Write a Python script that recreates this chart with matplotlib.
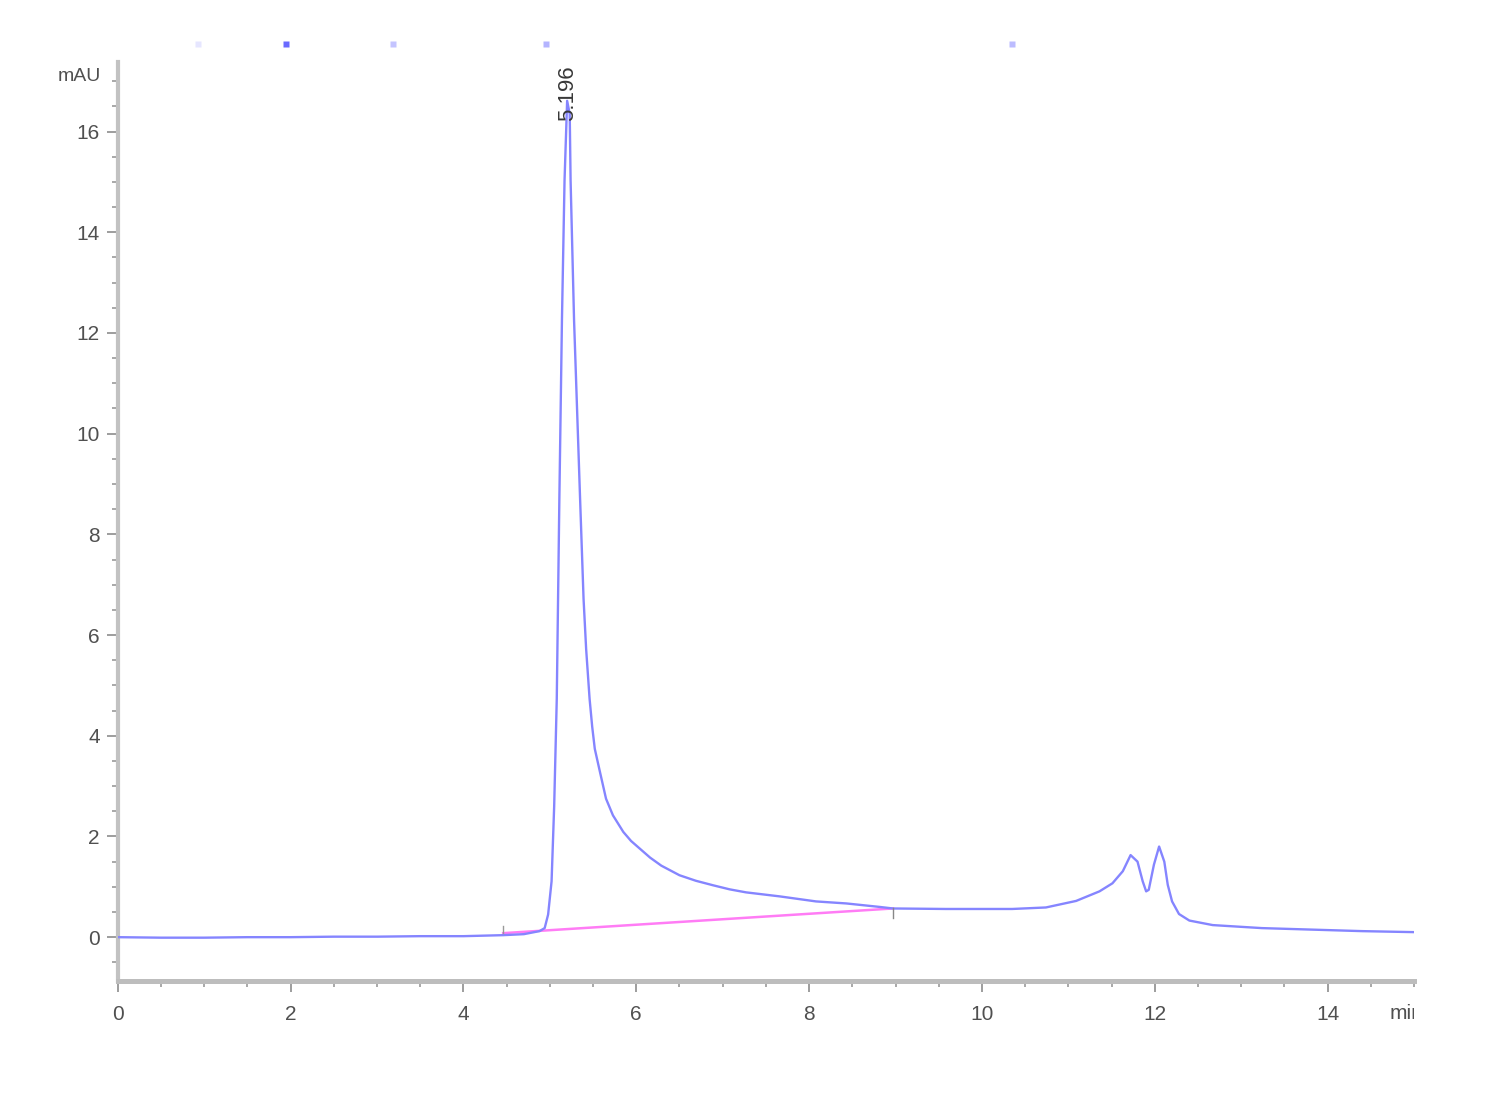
import matplotlib
matplotlib.use("Agg")
import matplotlib.pyplot as plt
from matplotlib.ticker import MultipleLocator
from matplotlib.transforms import Bbox, TransformedBbox

# ---- data ----
time_min = [0.0, 0.5, 1.0, 1.5, 2.0, 2.5, 3.0, 3.5, 4.0, 4.46, 4.7, 4.88,
            4.94, 4.98, 5.02, 5.05, 5.08, 5.11, 5.14, 5.17, 5.20, 5.23, 5.24,
            5.28, 5.35, 5.39, 5.42, 5.46, 5.49, 5.52, 5.58, 5.65, 5.73, 5.85, 5.94,
            6.04, 6.16, 6.29, 6.50, 6.69, 6.89, 7.08, 7.27, 7.66,
            8.08, 8.43, 8.82, 8.97, 9.58, 10.35, 10.74, 11.09, 11.36, 11.51,
            11.63, 11.72, 11.80, 11.86, 11.90, 11.93, 11.99, 12.05, 12.11,
            12.15, 12.20, 12.28, 12.40, 12.67, 13.24, 13.82, 14.40, 15.0]
signal_mau = [0.0, -0.01, -0.01, 0.0, 0.0, 0.01, 0.01, 0.02, 0.02, 0.04, 0.06, 0.12,
              0.18, 0.45, 1.11, 2.6, 4.73, 8.70, 12.26, 15.03, 16.61, 16.35, 15.03,
              12.26, 8.70, 6.72, 5.72, 4.73, 4.18, 3.74, 3.28, 2.75, 2.42, 2.09, 1.91,
              1.76, 1.58, 1.42, 1.23, 1.12, 1.03, 0.95, 0.89, 0.81,
              0.71, 0.67, 0.60, 0.57, 0.56, 0.56, 0.59, 0.72, 0.91, 1.07,
              1.31, 1.63, 1.50, 1.11, 0.91, 0.94, 1.44, 1.80, 1.50,
              1.04, 0.71, 0.46, 0.33, 0.24, 0.18, 0.15, 0.12, 0.10]

baseline_t = [4.46, 8.97]
baseline_y = [0.08, 0.57]

peak_rt = 5.196
peak_label = "5.196"
peak_height = 16.61

event_marks_x = [0.93, 1.95, 3.19, 4.95, 10.35]
event_marks_c = ["#e6e6ff", "#6a6aff", "#c4c4ff", "#b4b4ff", "#bcbcff"]

x_ticks = [0, 2, 4, 6, 8, 10, 12, 14]
y_ticks = [0, 2, 4, 6, 8, 10, 12, 14, 16]
x_unit = "min"
y_unit = "mAU"

# ---- figure ----
fig = plt.figure(figsize=(15, 11), dpi=100)
ax = fig.add_axes([0.0785, 0.1082, 0.8642, 0.8354])

ax.plot(time_min, signal_mau, color="#8585ff", lw=1.7, solid_joinstyle="round", zorder=3)
ax.plot(baseline_t, baseline_y, color="#ff7cf5", lw=1.8, zorder=2)

# integration start / end markers
ax.plot([baseline_t[0], baseline_t[0]], [baseline_y[0], baseline_y[0] + 0.15],
        color="#999999", lw=1.0, zorder=4)
ax.plot([baseline_t[1], baseline_t[1]], [baseline_y[1], baseline_y[1] - 0.18],
        color="#888888", lw=1.0, zorder=4)

ax.set_xlim(0, 15)
ax.set_ylim(-0.87, 17.38)

for s in ["top", "right"]:
    ax.spines[s].set_visible(False)
ax.spines["left"].set_color("#c2c2c2")
ax.spines["left"].set_linewidth(3.0)
ax.spines["bottom"].set_color("#bdbdbd")
ax.spines["bottom"].set_linewidth(3.6)

ax.set_xticks(x_ticks)
ax.set_yticks(y_ticks)
ax.xaxis.set_minor_locator(MultipleLocator(0.5))
ax.yaxis.set_minor_locator(MultipleLocator(0.5))
ax.tick_params(which="major", length=8, width=1.2, color="#8c8c8c",
               labelsize=15, labelcolor="#505050")
ax.tick_params(which="minor", length=4, width=1.2, color="#9a9a9a")
ax.tick_params(axis="x", which="major", pad=9)
ax.tick_params(axis="y", which="major", pad=5)
for lab in ax.get_xticklabels() + ax.get_yticklabels():
    lab.set_fontfamily("Liberation Sans")

# unit labels
ax.text(-0.2, 17.1, y_unit, ha="right", va="center", fontsize=14,
        color="#505050", family="Liberation Sans")
t = ax.text(14.72, -1.52, x_unit, ha="left", va="center", fontsize=15,
            color="#505050", family="Liberation Sans", clip_on=True)
t.set_clip_box(TransformedBbox(Bbox([[-0.1, -0.2], [1.0, 1.0]]), ax.transAxes))

# peak label
ax.text(peak_rt + 0.01, peak_height - 0.4, peak_label, rotation=90, ha="center",
        va="bottom", fontsize=16, color="#383838", family="Liberation Sans",
        zorder=5, clip_on=False)

# event marks above the plot
for ex, ec in zip(event_marks_x, event_marks_c):
    ax.plot([ex], [17.74], marker="s", ms=4, color=ec, mec="none", clip_on=False)

fig.savefig("out.png", dpi=100, facecolor="white")
